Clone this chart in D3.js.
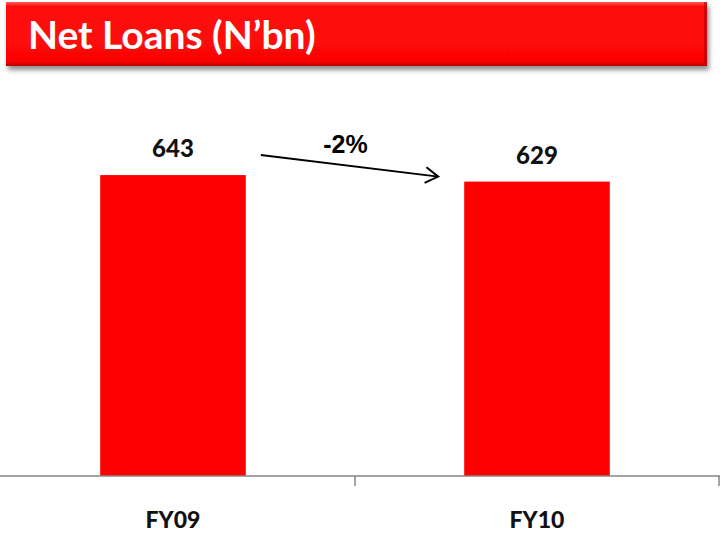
<!DOCTYPE html>
<html>
<head>
<meta charset="utf-8">
<script src="https://cdn.jsdelivr.net/npm/d3@7"></script>
<style>
  body { margin: 0; background: #fff; }
  svg { display: block; }
</style>
</head>
<body>
<div id="chart"></div>
<script>
const titleText = "Net Loans (N\u2019bn)";
const categories = ["FY09", "FY10"];
const values = [643, 629];
const changeLabel = "-2%";

const width = 720;
const height = 540;

const svg = d3.select("#chart")
  .append("svg")
  .attr("width", width)
  .attr("height", height);

const defs = svg.append("defs");

const grad = defs.append("linearGradient")
  .attr("id", "banner")
  .attr("x1", 0).attr("y1", 0).attr("x2", 0).attr("y2", 1);
grad.append("stop").attr("offset", "0%").attr("stop-color", "#ff5a5a");
grad.append("stop").attr("offset", "7%").attr("stop-color", "#ff0c0c");
grad.append("stop").attr("offset", "92%").attr("stop-color", "#fd0505");
grad.append("stop").attr("offset", "97%").attr("stop-color", "#d80000");
grad.append("stop").attr("offset", "100%").attr("stop-color", "#b00000");

const shadow = defs.append("filter")
  .attr("id", "shadow")
  .attr("x", "-5%").attr("y", "-20%").attr("width", "110%").attr("height", "150%");
shadow.append("feGaussianBlur").attr("in", "SourceAlpha").attr("stdDeviation", 2.5);
shadow.append("feOffset").attr("dx", 2).attr("dy", 4).attr("result", "off");
shadow.append("feComponentTransfer").append("feFuncA").attr("type", "linear").attr("slope", 0.45);
const merge = shadow.append("feMerge");
merge.append("feMergeNode");
merge.append("feMergeNode").attr("in", "SourceGraphic");

// title banner
svg.append("rect")
  .attr("x", 6).attr("y", 2)
  .attr("width", 701).attr("height", 64)
  .attr("fill", "url(#banner)")
  .attr("filter", "url(#shadow)");

svg.append("rect")
  .attr("x", 704).attr("y", 2)
  .attr("width", 3).attr("height", 64)
  .attr("fill", "#b00000")
  .attr("opacity", 0.6);

svg.append("text")
  .attr("x", 28)
  .attr("y", 49)
  .attr("fill", "white")
  .attr("font-family", "Lato, 'Open Sans', sans-serif")
  .attr("font-weight", "bold")
  .attr("font-size", 39)
  .text(titleText);

// scales
const x = d3.scaleBand()
  .domain(categories)
  .range([-9, 719])
  .paddingInner(0.6)
  .paddingOuter(0.3);

const y = d3.scaleLinear()
  .domain([0, 800])
  .range([476, 101.6]);

// bars
svg.selectAll("rect.bar")
  .data(values)
  .enter()
  .append("rect")
  .attr("class", "bar")
  .attr("x", (d, i) => x(categories[i]))
  .attr("y", d => y(d))
  .attr("width", x.bandwidth())
  .attr("height", d => y(0) - y(d))
  .attr("fill", "#ff0000");

// value labels
svg.selectAll("text.val")
  .data(values)
  .enter()
  .append("text")
  .attr("class", "val")
  .attr("x", (d, i) => x(categories[i]) + x.bandwidth() / 2)
  .attr("y", d => y(d) - 18)
  .attr("text-anchor", "middle")
  .attr("font-family", "Lato, 'Open Sans', sans-serif")
  .attr("font-weight", "900")
  .attr("font-size", 24)
  .attr("fill", "#111")
  .text(d => d);

// x axis
const edges = d3.scaleLinear().domain([0, categories.length]).range([-9, 719]);
const axis = svg.append("g").attr("transform", `translate(0,${y(0)})`);
axis.append("line")
  .attr("x1", 0).attr("x2", width)
  .attr("stroke", "#868686").attr("stroke-width", 1.5);
axis.selectAll("line.tick")
  .data(d3.range(categories.length + 1))
  .enter()
  .append("line")
  .attr("class", "tick")
  .attr("x1", d => edges(d)).attr("x2", d => edges(d))
  .attr("y1", 0).attr("y2", 10)
  .attr("stroke", "#868686").attr("stroke-width", 1.5);

axis.selectAll("text")
  .data(categories)
  .enter()
  .append("text")
  .attr("x", d => x(d) + x.bandwidth() / 2)
  .attr("y", 52)
  .attr("text-anchor", "middle")
  .attr("font-family", "Lato, 'Open Sans', sans-serif")
  .attr("font-weight", "900")
  .attr("font-size", 23)
  .attr("fill", "#111")
  .text(d => d);

// change arrow
const x1 = x(categories[0]) + x.bandwidth() + 15;
const x2 = x(categories[1]) - 26;
const ay1 = y(values[0]) - 20;
const ay2 = y(values[1]) - 5;

svg.append("line")
  .attr("x1", x1).attr("y1", ay1)
  .attr("x2", x2).attr("y2", ay2)
  .attr("stroke", "#000").attr("stroke-width", 2);

const ang = Math.atan2(ay2 - ay1, x2 - x1);
const head = 15;
const spread = 0.55;
svg.append("path")
  .attr("d", d3.line()([
    [x2 - head * Math.cos(ang - spread), ay2 - head * Math.sin(ang - spread)],
    [x2, ay2],
    [x2 - head * Math.cos(ang + spread), ay2 - head * Math.sin(ang + spread)]
  ]))
  .attr("fill", "none")
  .attr("stroke", "#000")
  .attr("stroke-width", 2);

svg.append("text")
  .attr("x", (x1 + x2) / 2 - 4)
  .attr("y", ay1 - 2)
  .attr("text-anchor", "middle")
  .attr("font-family", "'Liberation Sans', Arial, sans-serif")
  .attr("font-weight", "bold")
  .attr("font-size", 25)
  .attr("fill", "#000")
  .text(changeLabel);
</script>
</body>
</html>
